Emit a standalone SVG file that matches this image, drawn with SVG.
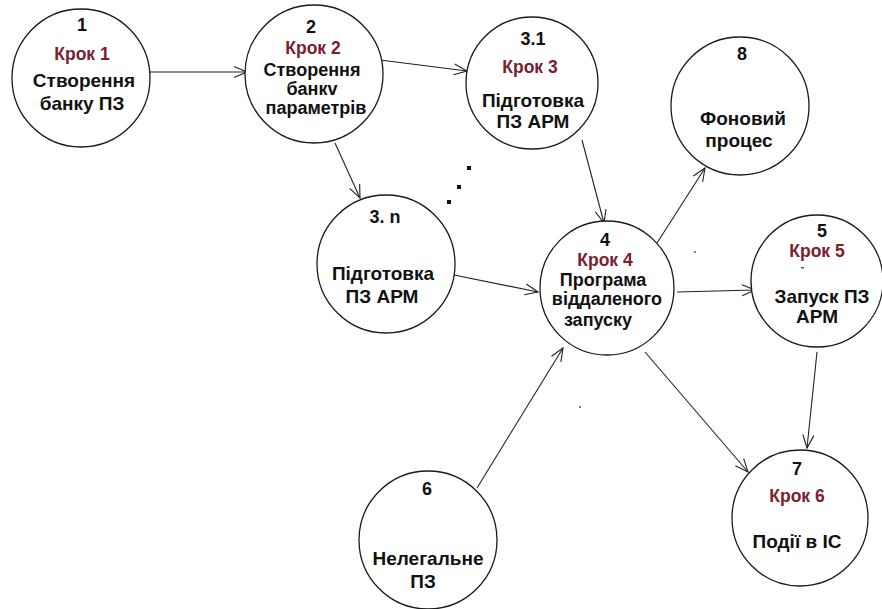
<svg xmlns="http://www.w3.org/2000/svg" width="882" height="609" viewBox="0 0 882 609">
  <style>
    .node circle { fill: #ffffff; stroke: #1a1a1a; stroke-width: 1.3; }
    text { font-family: "Liberation Sans", Arial, sans-serif; font-weight: bold; text-anchor: middle; fill: #111111; }
    .num { font-size: 18px; }
    .step { font-size: 17.5px; fill: #7a2030; }
    .body { font-size: 19px; }
    .tight { font-size: 18px; }
    .edge { stroke: #222222; stroke-width: 1.1; fill: none; marker-end: url(#arrow); }
    .dot { fill: #111111; }
  </style>
  <defs>
    <marker id="arrow" markerUnits="userSpaceOnUse" viewBox="-14 -7 15 14" refX="0" refY="0" markerWidth="15" markerHeight="14" orient="auto">
      <path d="M-13,-5.5 L0,0 L-13,5.5" fill="none" stroke="#222222" stroke-width="1.1"/>
    </marker>
  </defs>

  <rect width="882" height="609" fill="#ffffff"/>

  <!-- connectors -->
  <g id="connectors">
    <line class="edge" x1="150" y1="72" x2="247" y2="72"/>
    <line class="edge" x1="380" y1="60" x2="467" y2="71"/>
    <line class="edge" x1="335" y1="143" x2="360" y2="198"/>
    <line class="edge" x1="582" y1="140" x2="604" y2="223"/>
    <line class="edge" x1="657" y1="243" x2="705" y2="168"/>
    <line class="edge" x1="454" y1="275" x2="538" y2="292"/>
    <line class="edge" x1="677" y1="292" x2="755" y2="290"/>
    <line class="edge" x1="477" y1="488" x2="563" y2="348"/>
    <line class="edge" x1="645" y1="352" x2="748" y2="472"/>
    <line class="edge" x1="817" y1="352" x2="807" y2="448"/>
  </g>

  <!-- ellipsis between step 3.1 and 3.n -->
  <g id="ellipsis">
    <rect class="dot" x="467" y="166" width="4" height="4"/>
    <rect class="dot" x="457" y="185" width="4" height="4"/>
    <rect class="dot" x="447" y="200" width="4" height="4"/>
  </g>

  <g id="node-1" class="node">
    <circle cx="81" cy="78" r="69"/>
    <text class="num" x="82" y="31">1</text>
    <text class="step" x="82" y="60">Крок 1</text>
    <text class="body" x="84" y="87">Створення</text>
    <text class="body" x="82" y="110">банку ПЗ</text>
  </g>

  <g id="node-2" class="node">
    <circle cx="314" cy="74" r="69"/>
    <text class="num" x="311" y="33">2</text>
    <text class="step" x="313" y="54">Крок 2</text>
    <text class="tight" x="312" y="76">Створення</text>
    <text class="tight" x="312" y="95">банкv</text>
    <text class="tight" x="316" y="114">параметрів</text>
  </g>

  <g id="node-3-1" class="node">
    <circle cx="532" cy="83" r="66"/>
    <text class="num" x="533" y="45">3.1</text>
    <text class="step" x="530" y="73">Крок 3</text>
    <text class="body" x="533" y="107">Підготовка</text>
    <text class="body" x="533" y="128">ПЗ АРМ</text>
  </g>

  <g id="node-8" class="node">
    <circle cx="740" cy="106" r="69"/>
    <text class="num" x="742" y="60">8</text>
    <text class="body" x="743" y="125">Фоновий</text>
    <text class="body" x="739" y="147">процес</text>
  </g>

  <g id="node-3-n" class="node">
    <circle cx="386" cy="264" r="69"/>
    <text class="num" x="385" y="223">3. n</text>
    <text class="body" x="383" y="280">Підготовка</text>
    <text class="body" x="382" y="303">ПЗ АРМ</text>
  </g>

  <g id="node-4" class="node">
    <circle cx="607" cy="288" r="67"/>
    <text class="num" x="605" y="246">4</text>
    <text class="step" x="605" y="266">Крок 4</text>
    <text class="tight" x="603" y="286">Програма</text>
    <text class="tight" x="607" y="305">віддаленого</text>
    <text class="tight" x="598" y="326">запуску</text>
  </g>

  <g id="node-5" class="node">
    <circle cx="817" cy="281" r="66"/>
    <text class="num" x="822" y="237">5</text>
    <text class="step" x="817" y="257">Крок 5</text>
    <text class="body" x="822" y="303">Запуск ПЗ</text>
    <text class="body" x="817" y="323">АРМ</text>
  </g>

  <g id="node-6" class="node">
    <circle cx="428" cy="540" r="69"/>
    <text class="num" x="427" y="495">6</text>
    <text class="body" x="428" y="565">Нелегальне</text>
    <text class="body" x="423" y="588">ПЗ</text>
  </g>

  <g id="node-7" class="node">
    <circle cx="800" cy="518" r="68"/>
    <text class="num" x="797" y="475">7</text>
    <text class="step" x="797" y="502">Крок 6</text>
    <text class="body" x="797" y="548">Події в ІС</text>
  </g>

  <!-- stray specks -->
  <g id="specks" fill="#555555">
    <circle cx="695" cy="252" r="1"/>
    <circle cx="580" cy="407" r="1"/>
    <rect x="801" y="267" width="3" height="1.5"/>
  </g>
</svg>
